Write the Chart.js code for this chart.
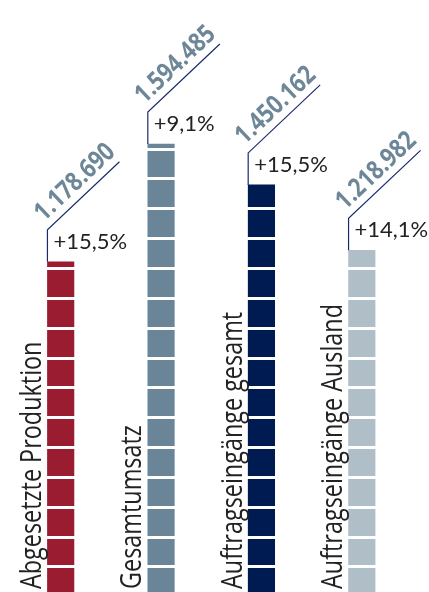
<!DOCTYPE html>
<html>
<head>
<meta charset="utf-8">
<script src="https://cdn.jsdelivr.net/npm/chart.js@4"></script>
<style>
  html, body { margin: 0; padding: 0; background: #fff; }
  #wrap { width: 429px; height: 592px; position: relative; }
</style>
</head>
<body>
<div id="wrap"><canvas id="chart"></canvas></div>
<script>
const categories = ['Abgesetzte Produktion', 'Gesamtumsatz', 'Auftragseingänge gesamt', 'Auftragseingänge Ausland'];
const values = [1178690, 1594485, 1450162, 1218982];
const valueLabels = ['1.178.690', '1.594.485', '1.450.162', '1.218.982'];
const changes = ['+15,5%', '+9,1%', '+15,5%', '+14,1%'];
const barColors = ['#9a1c31', '#6a8598', '#001a52', '#b0bec8'];

// white cuts across the bars (value units)
const segStart = 100000;
const segStep = 105500;

const lineColor = '#1b2a6e';

const annotate = {
  id: 'annotate',
  afterDraw(chart) {
    const ctx = chart.ctx;
    const meta = chart.getDatasetMeta(0);
    meta.data.forEach((bar, i) => {
      const left = bar.x - bar.width / 2;
      const top = bar.y;
      const sx = left, sy = top - 32;
      const ex = sx + 72, ey = sy - 68;

      ctx.save();
      ctx.strokeStyle = lineColor;
      ctx.lineWidth = 1.2;
      ctx.beginPath();
      ctx.moveTo(sx, top);
      ctx.lineTo(sx, sy);
      ctx.lineTo(ex, ey);
      ctx.stroke();

      // percent change
      ctx.fillStyle = '#222';
      ctx.font = '22px Lato';
      ctx.textAlign = 'left';
      ctx.textBaseline = 'alphabetic';
      ctx.fillText(changes[i], left + 6, top - 13);

      // value along the diagonal
      const ang = Math.atan2(ey - sy, ex - sx);
      const len = Math.hypot(ex - sx, ey - sy);
      ctx.translate(sx, sy);
      ctx.rotate(ang);
      ctx.translate(len / 2 + 3, -8);
      ctx.scale(0.84, 1);
      ctx.fillStyle = '#6d8799';
      ctx.font = 'bold 26px "Open Sans"';
      ctx.textAlign = 'center';
      ctx.fillText(valueLabels[i], 0, 0);
      ctx.restore();

      // category label, vertical (narrowed)
      ctx.save();
      ctx.translate(left - 6.5, 589);
      ctx.rotate(-Math.PI / 2);
      ctx.scale(0.78, 1);
      ctx.fillStyle = '#222';
      ctx.font = '30px "Open Sans"';
      ctx.textAlign = 'left';
      ctx.fillText(categories[i], 0, 0);
      ctx.restore();
    });
  }
};

new Chart(document.getElementById('chart'), {
  type: 'bar',
  data: {
    labels: categories,
    datasets: [{
      data: values,
      backgroundColor: barColors,
      barThickness: 26.5,
      borderWidth: 0
    }]
  },
  options: {
    responsive: true,
    maintainAspectRatio: false,
    animation: false,
    layout: { padding: { left: 10.5, right: 17, top: 0, bottom: 0 } },
    plugins: { legend: { display: false }, tooltip: { enabled: false } },
    scales: {
      x: { display: false },
      y: {
        min: 11660,
        max: 2103530,
        ticks: { display: false },
        border: { display: false },
        grid: { color: '#fff', lineWidth: 3, drawTicks: false, z: 1 },
        afterBuildTicks(scale) {
          const t = [];
          for (let v = segStart; v < scale.max; v += segStep) t.push({ value: v });
          scale.ticks = t;
        }
      }
    }
  },
  plugins: [annotate]
});
</script>
</body>
</html>
